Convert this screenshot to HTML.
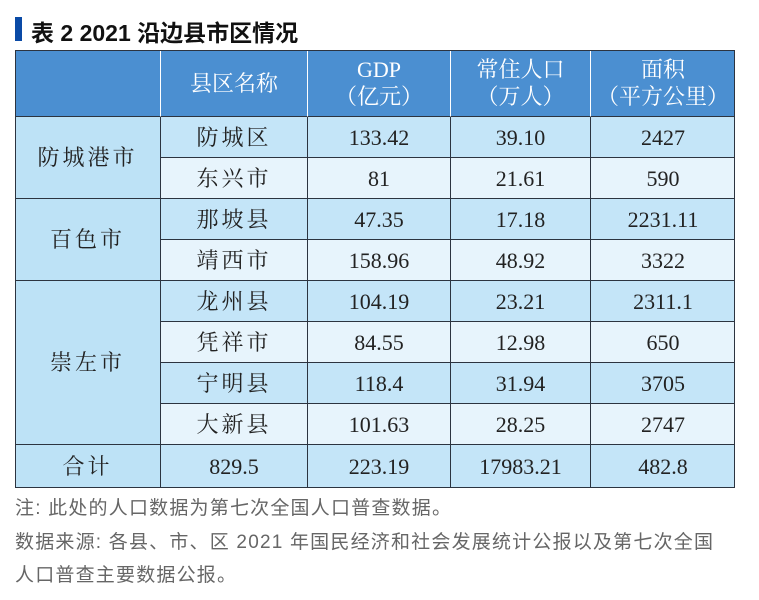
<!DOCTYPE html>
<html><head><meta charset="utf-8"><style>
body{margin:0;width:759px;height:600px;background:#fff;position:relative;overflow:hidden;font-family:"Liberation Serif","Noto Serif CJK SC",serif}
.a{position:absolute}
.c{position:absolute;display:flex;align-items:center;justify-content:center;box-sizing:border-box;font-size:22px;color:#222;text-align:center;line-height:27px}
.h{color:#fff;background:#4b8fd1}
.n{font-family:"Liberation Sans","Noto Sans CJK SC",sans-serif;color:#666;font-size:19px;letter-spacing:1.2px;left:15px;white-space:nowrap}
</style></head><body>
<div class="a" style="left:15px;top:17px;width:7px;height:24px;background:#0a4aa6"></div>
<div class="a" style="left:31px;top:14px;font-family:'Liberation Sans','Noto Sans CJK SC',sans-serif;font-weight:bold;font-size:23px;color:#111">表 2 2021 沿边县市区情况</div>
<div class="a" id="t" style="left:15px;top:50px;width:720px;height:438px;border:1.5px solid #2c3440;box-sizing:border-box;background:#c4e5f8"></div>
<div class="n a" style="top:493px">注: 此处的人口数据为第七次全国人口普查数据。</div>
<div class="n a" style="top:527px">数据来源: 各县、市、区 2021 年国民经济和社会发展统计公报以及第七次全国</div>
<div class="n a" style="top:560px">人口普查主要数据公报。</div>
<script>
const cols=[15,160,307,450,590,735];
const rowsY=[50,117,158,199,240,281,322,363,404,445,488];
const headers=["","县区名称","GDP<br>（亿元）","常住人口<br>（万人）","面积<br>（平方公里）"];
const cities=[["防城港市",0,2],["百色市",2,4],["崇左市",4,8],["合计",8,9]];
const names=["防城区","东兴市","那坡县","靖西市","龙州县","凭祥市","宁明县","大新县"];
const gdp=["133.42","81","47.35","158.96","104.19","84.55","118.4","101.63","829.5"];
const pop=["39.10","21.61","17.18","48.92","23.21","12.98","31.94","28.25","223.19"];
const area=["2427","590","2231.11","3322","2311.1","650","3705","2747","17983.21"];
const area2=["2427","590","2231.11","3322","2311.1","650","3705","2747","482.8"];
function cell(x0,x1,y0,y1,html,cls,bg,name){
 const d=document.createElement('div');d.className='c '+(cls||'');
 d.style.left=x0+'px';d.style.top=y0+'px';d.style.width=(x1-x0)+'px';d.style.height=(y1-y0)+'px';
 if(bg)d.style.background=bg;d.innerHTML=html;
 
 
 document.body.appendChild(d);return d;}
for(let i=0;i<5;i++){const d=cell(cols[i],cols[i+1],rowsY[0],rowsY[1],headers[i],'h',null,'header-cell');
 if(i>0)d.style.borderLeft='1.5px solid #fff';d.style.borderBottom='1.5px solid #2c3440';}
const vals=[names,gdp,pop,area2];
for(let r=0;r<9;r++){
 const bg=r==8?'#c4e5f8':(r%2==0?'#c4e5f8':'#e7f4fc');
 for(let c=1;c<5;c++){
  let v=r==8?(c==1?gdp[8]:c==2?pop[8]:c==3?area[8]:area2[8]):vals[c-1][r];
  const d=cell(cols[c],cols[c+1],rowsY[r+1],rowsY[r+2],v,'',bg,'data-cell');
  d.style.borderLeft='1.5px solid #2c3440';if(r<8)d.style.borderBottom='1.5px solid #2c3440';
  if(c==1&&r<8)d.style.letterSpacing='3px';
 }
}
cities.forEach(([n,a,b])=>{const d=cell(cols[0],cols[1],rowsY[a+1],rowsY[b+1],n,'','#bde2f6','city-cell');
 d.style.letterSpacing='3px';if(b<9)d.style.borderBottom='1.5px solid #2c3440';});
const t=document.getElementById('t');document.body.appendChild(t);t.style.background='transparent';
</script>
</body></html>
